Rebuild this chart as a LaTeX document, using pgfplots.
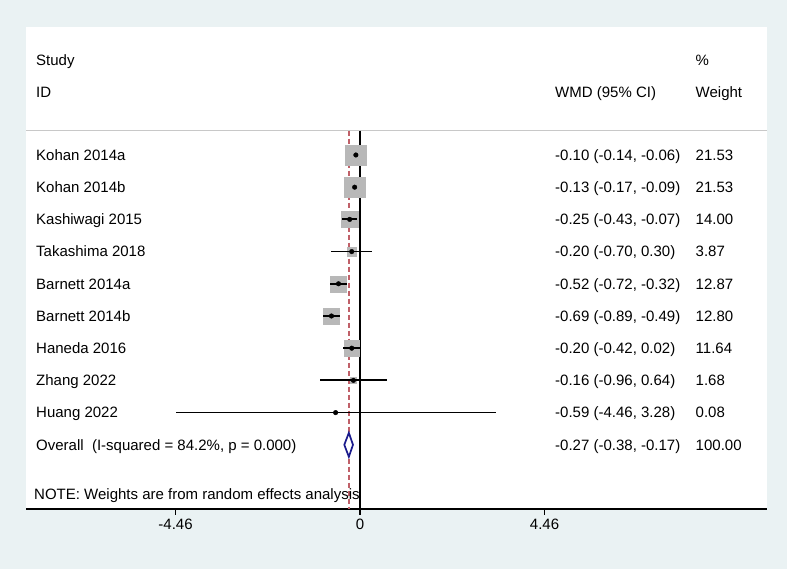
\documentclass[border=0pt]{standalone}
\usepackage{pgfplots}
\pgfplotsset{compat=1.18}
\usepackage{pgfplotstable}
\usepackage{fontspec}
\setmainfont{Liberation Sans}
\definecolor{bg}{RGB}{234,242,243}
\definecolor{boxgray}{RGB}{184,184,184}
\definecolor{refred}{RGB}{192,96,104}
\definecolor{navy}{RGB}{26,26,140}
\definecolor{hdr}{RGB}{200,200,200}

% est, lower, upper, weight, row position
\pgfplotstableread{
est lo hi w y
-0.10 -0.14 -0.06 21.53 -155.0
-0.13 -0.17 -0.09 21.53 -187.2
-0.25 -0.43 -0.07 14.00 -219.4
-0.20 -0.70 0.30 3.87 -251.6
-0.52 -0.72 -0.32 12.87 -283.8
-0.69 -0.89 -0.49 12.80 -316.0
-0.20 -0.42 0.02 11.64 -348.2
-0.16 -0.96 0.64 1.68 -380.4
-0.59 -4.46 3.28 0.08 -412.6
}\studies

\newcommand{\cx}{-7.832}
\newcommand{\wx}{4.714}
\newcommand{\gx}{8.110}
\newcommand{\row}[4]{%
  \node[anchor=base west, inner sep=0] at (axis cs:\cx,#2) {#1};
  \node[anchor=base west, inner sep=0] at (axis cs:\wx,#2) {#3};
  \node[anchor=base west, inner sep=0] at (axis cs:\gx,#2) {#4};}

\begin{document}
\begin{tikzpicture}[font=\fontsize{15}{18}\selectfont]
\fill[bg] (0pt,0pt) rectangle (787pt,569pt);
\begin{axis}[
  at={(26pt,60pt)}, anchor=south west,
  scale only axis, width=741pt, height=482pt,
  xmin=-8.074, xmax=9.838, ymin=-509, ymax=-27,
  axis background/.style={fill=white},
  axis x line*=bottom, axis y line=none,
  x axis line style={-, line width=1.2pt},
  xtick={-4.46,0,4.46}, xticklabels={-4.46,0,4.46},
  xtick align=outside, major tick length=6pt,
  tick style={black, line width=1.2pt},
  ticklabel style={font=\fontsize{15}{18}\selectfont},
  clip mode=individual, clip=false,
]
% header rule
\addplot[hdr, line width=1.3pt] coordinates {(-8.074,-130.7) (9.838,-130.7)};
% null line and overall line
\addplot[black, line width=1.3pt] coordinates {(0,-130.7) (0,-509)};
\addplot[refred, line width=1.5pt, dash pattern=on 5pt off 3pt] coordinates {(-0.27,-130.7) (-0.27,-509)};
% weight boxes
\addplot[scatter, only marks, mark=square*,
  point meta=\thisrow{w},
  scatter/use mapped color={draw=boxgray, fill=boxgray},
  visualization depends on={2.21*sqrt(\thisrow{w}) \as \ms},
  scatter/@pre marker code/.append style={/tikz/mark size=\ms}]
  table[x=est, y=y] {\studies};
% confidence intervals and point estimates
\addplot[only marks, mark=*, mark size=2.3pt, black,
  error bars/x dir=both, error bars/x explicit,
  error bars/error bar style={line width=1.8pt, black},
  error bars/error mark=none]
  table[x=est, y=y,
        x error plus expr=\thisrow{hi}-\thisrow{est},
        x error minus expr=\thisrow{est}-\thisrow{lo}] {\studies};
% overall diamond
\addplot[navy, line width=1.7pt, fill=white] coordinates {(-0.38,-444.8) (-0.27,-432.8) (-0.17,-444.8) (-0.27,-456.8)} -- cycle;

% headers
\node[anchor=base west, inner sep=0] at (axis cs:\cx,-65.6) {Study};
\node[anchor=base west, inner sep=0] at (axis cs:\cx,-98.0) {ID};
\node[anchor=base west, inner sep=0] at (axis cs:\wx,-98.0) {WMD (95\% CI)};
\node[anchor=base west, inner sep=0] at (axis cs:\gx,-65.6) {\%};
\node[anchor=base west, inner sep=0] at (axis cs:\gx,-98.0) {Weight};

% rows
\row{Kohan 2014a}{-160.3}{-0.10 (-0.14, -0.06)}{21.53}
\row{Kohan 2014b}{-192.5}{-0.13 (-0.17, -0.09)}{21.53}
\row{Kashiwagi 2015}{-224.7}{-0.25 (-0.43, -0.07)}{14.00}
\row{Takashima 2018}{-256.9}{-0.20 (-0.70, 0.30)}{3.87}
\row{Barnett 2014a}{-289.1}{-0.52 (-0.72, -0.32)}{12.87}
\row{Barnett 2014b}{-321.3}{-0.69 (-0.89, -0.49)}{12.80}
\row{Haneda 2016}{-353.5}{-0.20 (-0.42, 0.02)}{11.64}
\row{Zhang 2022}{-385.7}{-0.16 (-0.96, 0.64)}{1.68}
\row{Huang 2022}{-417.9}{-0.59 (-4.46, 3.28)}{0.08}
\row{Overall\ \ (I-squared = 84.2\%, p = 0.000)}{-450.1}{-0.27 (-0.38, -0.17)}{100.00}
\node[anchor=base west, inner sep=0] at (axis cs:-7.88,-499.5) {NOTE: Weights are from random effects analysis};
\end{axis}
\end{tikzpicture}
\end{document}
